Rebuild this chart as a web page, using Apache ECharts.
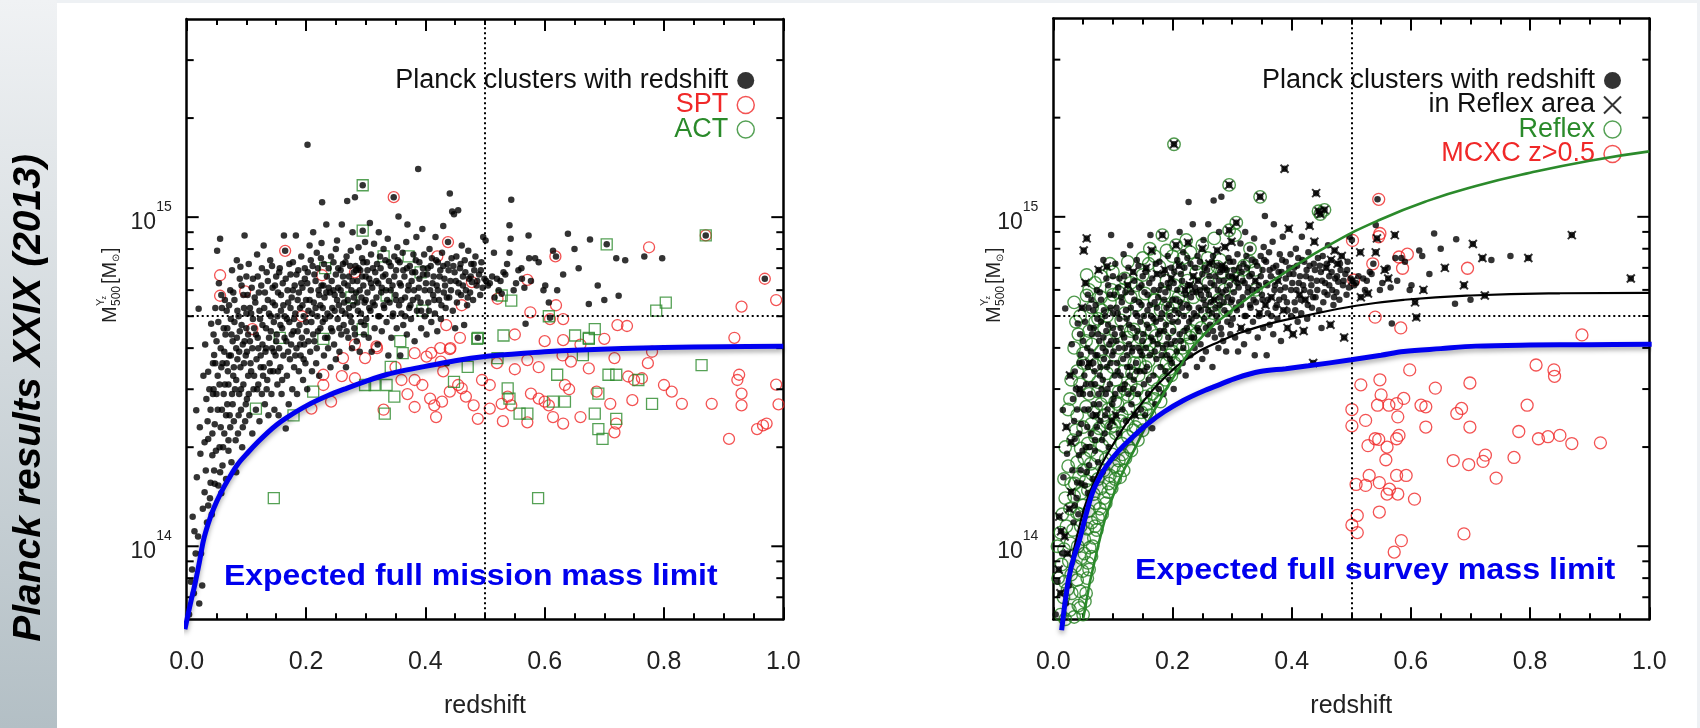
<!DOCTYPE html>
<html><head><meta charset="utf-8">
<script src="https://cdn.jsdelivr.net/npm/echarts@6/dist/echarts.min.js"></script>
<style>html,body{margin:0;padding:0;background:#fff}#c{width:1700px;height:728px}</style>
</head><body><div id="c"></div>
<script>
// ---------- data (mass in units of 1e14 Msun) ----------
const xTickLabels = ['0.0','0.2','0.4','0.6','0.8','1.0'];
const yMajorTicks = [1, 10];
const yMajorLabels = ['14', '15'];
const yMinorTicks = [0.7,0.8,0.9,2,3,4,5,6,7,8,9,20,30];
const zCut = 0.5;
const mCut = 5;

const planck = [
[0.004,0.62],[0.007,0.78],[0.009,0.85],[0.010,1.23],[0.012,0.72],[0.013,1.11],[0.015,0.95],[0.016,2.59],[0.017,1.62],[0.019,1.07],[0.021,0.67],[0.022,2.3],[0.023,1.91],[0.024,0.95],[0.026,0.76],[0.027,1.30],[0.028,3.3],[0.030,1.46],[0.030,2.07],[0.031,4.1],[0.033,2.8],[0.034,1.18],[0.036,1.33],[0.036,2.12],[0.036,3.39],[0.020,5.27],[0.040,1.56],[0.040,2.6],[0.041,4.74],[0.042,1.25],[0.043,1.89],[0.044,3.6],[0.045,3.0],[0.045,4.4],[0.046,1.70],[0.046,3.81],[0.047,2.35],[0.048,5.3],[0.049,1.95],[0.050,2.9],
[0.051,7.9],[0.052,3.3],[0.053,1.53],[0.054,6.3],[0.055,2.0],[0.056,8.6],[0.056,1.68],[0.057,4.0],[0.058,1.45],[0.058,5.8],[0.059,2.6],[0.060,3.6],[0.060,1.76],[0.062,4.6],[0.063,2.2],[0.064,3.1],[0.065,4.4],[0.066,1.6],[0.067,5.2],[0.068,2.7],[0.069,3.4],[0.070,2.1],[0.071,3.8],[0.072,2.5],[0.073,6.0],[0.074,4.9],[0.075,1.8],[0.076,2.9],[0.076,6.9],[0.077,4.2],[0.078,3.3],[0.079,2.4],[0.080,5.6],[0.081,3.0],[0.083,1.68],[0.083,4.0],[0.084,7.4],[0.085,3.7],[0.086,2.2],[0.087,5.0],[0.088,2.9],[0.089,4.5],[0.090,7.07],[0.090,3.5],[0.091,2.6],[0.092,6.2],[0.093,2.0],[0.094,4.1],[0.095,3.1],[0.096,5.3],[0.097,8.8],[0.098,2.4],[0.099,3.8],[0.100,6.6],[0.100,4.6],
[0.101,2.8],[0.102,5.8],[0.103,3.3],[0.104,7.2],[0.105,2.5],[0.106,4.2],[0.107,3.6],[0.108,5.1],[0.110,2.2],[0.110,4.0],[0.111,6.5],[0.112,3.0],[0.113,4.6],[0.115,5.5],[0.116,2.6],[0.117,3.7],[0.118,7.7],[0.119,4.3],[0.120,3.1],[0.121,5.9],[0.122,2.4],[0.123,4.9],[0.124,3.5],[0.125,6.2],[0.126,2.9],[0.127,4.1],[0.128,3.3],[0.129,8.2],[0.130,5.3],[0.131,2.7],[0.132,3.9],[0.133,4.6],[0.134,6.8],[0.135,3.2],[0.136,5.6],[0.137,2.5],[0.138,4.3],[0.139,3.6],[0.140,7.4],[0.141,5.0],[0.142,2.9],[0.143,4.0],[0.144,6.1],[0.145,3.4],[0.146,4.8],[0.147,2.6],[0.148,5.4],[0.149,3.8],[0.150,6.6],
[0.151,4.4],[0.152,3.1],[0.153,5.9],[0.154,2.5],[0.155,4.0],[0.156,7.0],[0.157,3.5],[0.158,5.2],[0.159,2.9],[0.160,4.6],[0.161,6.3],[0.162,3.8],[0.163,8.8],[0.164,5.0],[0.165,7.9],[0.166,2.28],[0.167,4.2],[0.168,3.3],[0.169,6.0],[0.170,5.5],[0.171,2.7],[0.172,4.8],[0.173,3.7],[0.174,6.7],[0.175,4.1],[0.176,5.7],[0.177,3.0],[0.178,7.3],[0.179,4.5],[0.180,3.5],[0.181,6.2],[0.182,5.1],[0.183,8.8],[0.184,4.0],[0.185,2.9],[0.186,5.6],[0.187,6.9],[0.188,3.4],[0.189,4.7],[0.190,5.3],[0.191,3.8],[0.192,7.6],[0.193,4.3],[0.194,6.1],[0.195,3.2],[0.196,5.0],[0.197,4.1],[0.198,6.5],[0.199,3.6],[0.200,5.6],
[0.2025,16.6],[0.201,4.5],[0.202,3.0],[0.203,6.8],[0.204,5.2],[0.206,8.2],[0.207,3.9],[0.208,6.0],[0.209,4.8],[0.210,3.4],[0.211,7.1],[0.212,9.0],[0.213,5.5],[0.214,4.2],[0.216,6.4],[0.217,3.6],[0.218,7.8],[0.219,5.0],[0.220,4.5],[0.221,6.0],[0.222,3.3],[0.224,5.4],[0.225,7.5],[0.226,8.35],[0.227,11.1],[0.228,4.8],[0.229,6.2],[0.230,3.8],[0.231,5.7],[0.232,4.3],[0.234,9.5],[0.235,6.6],[0.236,5.1],[0.237,4.0],[0.238,7.0],[0.240,5.9],[0.241,3.5],[0.242,4.6],[0.243,6.4],[0.244,5.3],[0.246,7.3],[0.247,4.1],[0.248,5.8],[0.250,8.0],[0.250,3.7],
[0.252,8.5],[0.253,4.9],[0.254,6.1],[0.255,5.4],[0.256,3.9],[0.258,6.9],[0.259,4.4],[0.260,9.5],[0.261,5.8],[0.262,7.2],[0.263,4.7],[0.264,6.3],[0.266,5.1],[0.267,3.5],[0.268,7.6],[0.269,11.2],[0.270,5.6],[0.271,4.3],[0.272,6.6],[0.274,5.0],[0.275,7.9],[0.276,6.0],[0.277,4.0],[0.278,9.0],[0.279,5.4],[0.280,6.8],[0.281,4.6],[0.282,11.5],[0.283,7.1],[0.284,5.9],[0.285,4.2],[0.286,6.4],[0.287,5.2],[0.288,8.1],[0.290,3.9],[0.291,6.9],[0.292,4.8],[0.293,5.7],[0.294,7.5],[0.295,12.5],[0.295,9.1],[0.296,6.2],[0.297,4.4],[0.298,5.5],[0.299,8.4],[0.300,6.6],
[0.301,4.9],[0.302,7.3],[0.303,5.9],[0.305,4.3],[0.306,6.5],[0.307,9.6],[0.308,5.2],[0.309,7.7],[0.310,3.9],[0.311,6.1],[0.312,5.5],[0.314,8.3],[0.315,4.6],[0.316,6.8],[0.318,5.7],[0.319,7.2],[0.320,4.1],[0.321,6.3],[0.322,9.0],[0.323,5.0],[0.325,7.0],[0.326,5.9],[0.327,4.5],[0.329,6.6],[0.330,8.0],[0.331,5.3],[0.333,7.4],[0.334,6.0],[0.335,4.8],[0.337,8.6],[0.338,3.8],[0.339,6.4],[0.340,5.5],[0.342,7.1],[0.343,4.3],[0.345,6.2],[0.346,5.1],[0.347,11.5],[0.348,7.6],[0.350,5.8],
[0.351,6.9],[0.352,4.6],[0.353,8.1],[0.355,10.05],[0.356,5.4],[0.357,7.3],[0.358,3.8],[0.359,6.2],[0.360,5.1],[0.362,7.8],[0.363,4.7],[0.365,6.6],[0.366,5.7],[0.368,8.4],[0.369,4.4],[0.370,9.5],[0.371,6.0],[0.373,5.3],[0.374,7.1],[0.376,4.9],[0.377,6.4],[0.379,5.6],[0.380,7.7],[0.382,4.2],[0.383,6.8],[0.385,8.7],[0.386,5.2],[0.388,14.0],[0.389,6.1],[0.390,7.3],[0.392,5.5],[0.393,4.6],[0.395,9.2],[0.396,6.7],[0.398,7.7],[0.399,5.0],
[0.401,6.3],[0.402,4.4],[0.404,7.0],[0.405,5.5],[0.407,8.0],[0.408,6.0],[0.410,4.8],[0.411,7.5],[0.413,5.8],[0.414,6.6],[0.416,5.1],[0.417,8.7],[0.419,6.2],[0.420,4.5],[0.421,7.3],[0.423,5.6],[0.425,6.9],[0.426,4.9],[0.428,7.8],[0.430,9.4],[0.431,5.9],[0.432,6.5],[0.434,5.3],[0.436,3.6],[0.437,7.2],[0.438,8.4],[0.440,5.7],[0.441,11.8],[0.442,6.4],[0.444,7.5],[0.445,10.4],[0.446,5.2],[0.448,10.2],[0.449,6.8],[0.450,4.6],
[0.452,7.6],[0.453,5.5],[0.455,10.5],[0.456,6.3],[0.458,7.0],[0.460,5.8],[0.461,8.2],[0.463,6.6],[0.465,4.7],[0.466,7.4],[0.468,6.0],[0.470,5.4],[0.472,7.9],[0.473,6.5],[0.475,5.9],[0.477,7.2],[0.478,6.35],[0.480,5.6],[0.482,6.9],[0.484,7.6],[0.486,6.2],[0.488,4.3],[0.490,6.7],[0.492,5.8],[0.494,7.3],[0.496,6.1],[0.497,8.7],[0.499,6.5],
[0.501,8.5],[0.502,6.4],[0.505,6.2],[0.508,6.3],[0.512,6.6],[0.515,7.8],[0.516,5.7],[0.520,6.5],[0.523,6.0],[0.526,6.4],[0.528,5.85],[0.531,6.8],[0.534,6.7],[0.537,7.2],[0.541,7.8],[0.541,9.45],[0.543,8.6],[0.544,11.3],[0.548,6.0],[0.552,6.3],[0.556,6.9],[0.561,7.0],[0.562,6.5],[0.566,6.1],[0.568,4.74],[0.573,8.8],[0.574,7.5],[0.577,6.4],[0.584,7.5],[0.590,7.3],[0.598,6.0],
[0.601,6.2],[0.607,5.5],[0.609,4.95],[0.614,7.9],[0.619,7.6],[0.621,6.0],[0.631,6.7],[0.639,8.9],[0.650,8.0],[0.657,7.0],[0.674,5.45],[0.676,8.55],[0.689,6.2],[0.700,5.6],[0.704,8.27],[0.720,7.5],[0.724,5.77],[0.735,7.4],[0.767,7.6],[0.797,7.5],[0.870,8.8],[0.969,6.5],
[0.032,1.7],[0.035,2.4],[0.038,3.0],[0.039,1.4],[0.043,2.2],[0.044,2.9],[0.047,1.55],[0.048,3.6],[0.05,4.2],[0.052,2.6],[0.053,4.8],[0.055,3.1],[0.057,2.3],[0.058,3.5],[0.059,5.3],[0.061,2.0],[0.062,2.9],[0.063,3.9],[0.064,5.6],[0.066,2.5],[0.067,3.6],[0.068,4.6],[0.07,1.95],[0.07,3.1],[0.071,5.4],[0.073,2.3],[0.074,3.8],[0.075,4.4],[0.077,2.7],[0.078,5.9],[0.079,3.5],[0.08,4.8],[0.082,2.1],[0.083,3.2],[0.084,4.3],[0.085,5.2],[0.087,2.5],[0.088,3.9],[0.089,6.5],[0.091,3.0],[0.092,4.7],[0.094,2.3],[0.095,5.8],[0.096,3.6],[0.097,4.2],[0.099,2.7],[0.1,5.1],[0.101,3.9],[0.103,4.4],[0.104,2.9],[0.106,5.3],[0.108,3.4],[0.109,6.1],[0.111,4.9],[0.113,3.3],[0.114,5.7],[0.116,4.4],[0.118,3.0],[0.119,6.6],[0.12,4.0],
[0.122,5.2],[0.124,3.8],[0.126,7.0],[0.127,4.7],[0.129,3.5],[0.131,5.9],[0.133,4.0],[0.134,3.0],[0.136,6.4],[0.138,5.1],[0.14,3.4],[0.141,4.5],[0.143,7.1],[0.144,5.5],[0.146,3.9],[0.148,6.2],[0.15,4.2],[0.152,5.0],[0.153,3.4],[0.155,6.8],[0.157,4.7],[0.158,5.8],[0.16,3.2],[0.162,5.4],[0.164,4.3],[0.166,6.5],[0.168,4.9],[0.17,3.9],[0.172,7.2],[0.174,5.3],[0.176,4.4],[0.178,6.0],[0.18,4.9],[0.182,3.8],[0.184,6.7],[0.186,4.5],[0.188,5.9],[0.19,4.1],[0.192,6.3],[0.194,5.4],[0.196,3.7],[0.198,7.0],[0.2,4.8],[0.202,6.3],[0.204,4.2],[0.206,5.6],[0.208,7.4],[0.21,5.1],[0.212,4.4],[0.214,6.7],[0.216,5.3],[0.218,4.0],[0.22,7.0],[0.222,5.8],[0.224,4.6],[0.226,6.2],[0.228,5.3],[0.23,7.2],[0.232,4.9],[0.234,5.9],[0.236,4.3],[0.238,6.1],[0.24,5.0],[0.242,7.6],[0.244,4.5],[0.246,6.0],[0.248,5.2],[0.25,6.7],
[0.252,5.6],[0.254,7.0],[0.256,4.6],[0.258,6.0],[0.26,5.2],[0.262,6.6],[0.264,5.5],[0.266,7.3],[0.268,4.5],[0.27,6.2],[0.272,5.3],[0.274,7.1],[0.276,4.8],[0.278,6.4],[0.28,5.7],[0.282,4.4],[0.284,6.9],[0.286,5.5],[0.288,7.0],[0.29,6.0],[0.292,5.1],[0.294,6.6],[0.296,7.3],[0.298,4.7],[0.3,5.6],[0.303,6.9],[0.306,5.3],[0.309,6.3],[0.312,7.0],[0.315,5.4],[0.318,6.4],[0.321,5.0],[0.324,7.6],[0.327,6.1],[0.33,5.4],[0.333,6.7],[0.336,5.6],[0.339,7.3],[0.342,6.0],[0.345,5.0],[0.348,6.6],[0.351,5.6],[0.354,7.4],[0.357,6.3],[0.36,5.6],[0.363,6.9],[0.366,5.0],[0.369,7.0],[0.372,6.2],[0.375,5.4],[0.378,6.8],[0.381,6.0],[0.384,7.4],[0.387,5.7],[0.39,6.5],[0.393,5.2],[0.396,7.0],[0.399,6.0],[0.403,6.7],[0.406,5.2],[0.409,7.1],[0.412,6.3],[0.415,5.6],[0.418,7.4],[0.421,6.0],[0.424,6.6],[0.427,5.4],[0.43,7.1],[0.433,6.2],[0.436,5.7],[0.439,6.9],[0.443,6.0],[0.447,7.1],[0.451,6.4],[0.455,5.9],[0.459,7.2],[0.463,6.2],[0.467,6.8],[0.471,5.7],[0.476,6.6],[0.481,7.2],[0.487,6.4],[0.493,6.9]
];

const spt = [
[0.347,11.5],[0.165,7.9],[0.056,6.66],[0.056,5.77],[0.098,5.95],[0.438,8.4],[0.42,7.6],[0.618,7.6],[0.775,8.1],[0.87,8.8],[0.969,6.5],[0.227,6.66],[0.282,6.8],[0.571,6.45],[0.478,6.35],[0.521,5.65],[0.461,5.4],[0.619,5.4],[0.576,5.14],[0.93,5.35],[0.609,4.9],[0.631,4.9],[0.722,4.7],[0.738,4.67],[0.918,4.3],[0.435,4.7],[0.11,4.57],[0.193,5.0],[0.70,4.27],[0.631,4.23],[0.319,4.0],[0.282,4.1],[0.425,4.0],[0.441,3.97],[0.41,3.87],
[0.262,3.73],[0.299,3.73],[0.318,4.05],[0.229,3.32],[0.26,3.29],[0.282,3.24],[0.229,3.09],[0.209,2.62],[0.242,2.75],[0.382,3.86],[0.402,3.77],[0.442,4.0],[0.426,3.64],[0.43,3.4],[0.382,3.2],[0.395,3.09],[0.408,2.81],[0.415,2.68],[0.428,2.75],[0.382,2.65],[0.418,2.47],[0.441,2.95],[0.455,3.09],[0.461,3.02],[0.468,2.85],[0.481,2.68],[0.488,2.44],[0.508,3.09],[0.538,2.85],[0.544,2.68],[0.508,2.62],[0.528,2.71],[0.571,2.38],[0.577,2.91],[0.59,2.81],[0.60,2.75],[0.607,2.68],[0.614,2.47],[0.631,2.36],[0.571,3.68],[0.644,3.64],[0.674,3.47],[0.634,3.09],[0.641,3.0],[0.66,2.47],[0.687,2.95],[0.71,2.71],[0.717,3.73],[0.773,3.6],[0.717,2.22],[0.72,2.36],[0.74,3.28],[0.75,3.2],[0.763,3.24],[0.747,2.78],[0.8,3.09],[0.813,2.95],[0.83,2.71],[0.88,2.71],[0.926,3.32],[0.923,3.2],[0.93,2.91],[0.93,2.68],[0.909,2.12],[0.956,2.27],[0.966,2.33],[0.972,2.36],[0.988,3.1],[0.992,2.7],[0.988,5.6],[0.52,3.6],[0.55,3.45],[0.59,3.5],[0.63,3.8],[0.6,4.2],[0.66,4.1],[0.55,4.4],[0.35,3.5],[0.36,3.2],[0.37,2.9],[0.33,2.6],[0.458,4.3],[0.495,3.2],[0.53,2.4],[0.78,3.9]
];

const act = [
[0.295,12.5],[0.295,9.1],[0.704,8.27],[0.87,8.8],[0.33,7.6],[0.372,7.6],[0.392,6.8],[0.232,7.0],[0.276,5.7],[0.335,5.78],[0.528,5.78],[0.544,5.58],[0.787,5.2],[0.803,5.5],[0.607,5.0],[0.684,4.57],[0.651,4.37],[0.674,4.27],[0.531,4.37],[0.487,4.27],[0.358,4.2],[0.295,4.57],[0.229,4.27],[0.156,4.3],[0.395,5.2],[0.342,3.51],[0.362,3.86],[0.299,3.09],[0.315,3.09],[0.335,3.09],[0.348,2.85],[0.212,2.95],[0.116,2.62],[0.179,2.5],[0.332,2.53],[0.448,3.16],[0.471,3.51],[0.488,4.3],[0.521,3.73],[0.538,3.02],[0.541,2.81],[0.558,2.53],[0.571,2.53],[0.614,2.75],[0.621,3.32],[0.634,2.75],[0.664,3.81],[0.674,4.3],[0.684,2.53],[0.69,2.91],[0.707,3.32],[0.72,3.32],[0.69,2.27],[0.697,2.12],[0.72,2.44],[0.78,2.71],[0.863,3.55],[0.757,3.2],[0.146,1.4],[0.589,1.4]
];

const limitMission = [
[-0.003,0.56],[0.007,0.68],[0.014,0.77],[0.021,0.89],[0.028,1.04],[0.036,1.17],[0.045,1.3],[0.057,1.45],[0.07,1.6],[0.085,1.77],[0.103,1.93],[0.12,2.08],[0.136,2.22],[0.152,2.35],[0.169,2.47],[0.202,2.68],[0.235,2.86],[0.268,3.02],[0.30,3.17],[0.334,3.32],[0.367,3.43],[0.40,3.52],[0.45,3.66],[0.5,3.77],[0.55,3.84],[0.6,3.9],[0.66,3.95],[0.73,3.99],[0.8,4.02],[0.9,4.04],[1.0,4.05]
];

const mcxc = [
[0.546,11.3],[0.546,8.7],[0.548,8.9],[0.502,8.48],[0.536,7.2],[0.58,7.55],[0.594,7.7],[0.586,6.98],[0.695,6.98],[0.504,6.43],[0.54,4.96],[0.583,4.6],[0.887,4.38],
[0.598,3.43],[0.516,3.09],[0.548,3.2],[0.641,3.02],[0.699,3.13],[0.81,3.55],[0.84,3.43],[0.841,3.28],[0.55,2.88],[0.544,2.68],[0.563,2.68],[0.576,2.71],[0.588,2.81],[0.578,2.47],[0.617,2.68],[0.625,2.65],[0.677,2.53],[0.685,2.62],[0.699,2.3],[0.625,2.3],[0.795,2.68],[0.524,2.41],[0.501,2.6],[0.501,2.32],[0.781,2.23],[0.814,2.12],[0.83,2.15],[0.85,2.17],[0.87,2.05],[0.918,2.06],[0.528,2.02],[0.54,2.12],[0.546,2.11],[0.56,2.0],[0.576,2.12],[0.58,2.17],[0.558,1.83],[0.671,1.82],[0.697,1.77],[0.721,1.81],[0.725,1.89],[0.773,1.86],[0.743,1.61],[0.508,1.54],[0.524,1.53],[0.53,1.64],[0.547,1.56],[0.576,1.64],[0.592,1.64],[0.564,1.49],[0.56,1.44],[0.578,1.44],[0.606,1.39],[0.547,1.27],[0.51,1.24],[0.501,1.16],[0.51,1.1],[0.689,1.09],[0.584,1.04],[0.572,0.96]
];

const reflexArea = [
[0.2025,16.6],[0.388,14.0],[0.295,12.5],[0.347,11.5],[0.441,11.8],[0.445,10.4],[0.455,10.5],[0.448,10.2],[0.307,9.6],[0.295,9.1],[0.395,9.2],[0.430,9.4],[0.438,8.4],[0.183,8.8],[0.206,8.2],[0.226,8.35],[0.165,7.9],[0.573,8.8],[0.704,8.27],[0.720,7.5],[0.797,7.5],[0.870,8.8],[0.969,6.5],[0.689,6.2],[0.621,6.0],[0.657,7.0],[0.724,5.77],[0.609,4.95],[0.607,5.5],[0.543,8.6],[0.541,7.8],[0.515,7.8],[0.528,5.85],[0.516,5.7],[0.502,6.4],[0.562,6.5],[0.556,6.9],[0.488,4.3],[0.465,4.7],[0.393,4.6],[0.423,5.6],[0.386,5.2],[0.377,6.4],[0.346,5.1],[0.339,6.4],[0.315,4.6],[0.306,6.5],[0.299,8.4],[0.288,8.1],[0.275,7.9],[0.262,7.2],[0.250,8.0],[0.243,6.4],[0.235,6.6],[0.229,6.2],[0.221,6.0],[0.211,7.1],[0.198,6.5],[0.187,6.9],[0.174,6.7],[0.156,7.0],[0.134,6.8],[0.125,6.2],[0.098,2.4],[0.090,7.07],[0.076,6.9],[0.056,8.6],[0.051,7.9],[0.054,6.3],[0.048,5.3],[0.030,2.07],[0.027,1.30],[0.024,0.95],[0.012,0.72],[0.013,1.11],[0.019,1.07],[0.022,2.3],[0.045,3.0],[0.060,3.6],[0.072,2.5],[0.105,2.5],[0.137,2.5],[0.466,7.4],[0.472,7.9],[0.477,7.2],[0.484,7.6],[0.458,7.0],[0.420,4.5],[0.436,3.6],[0.356,5.4],[0.366,5.7],[0.402,4.4],[0.413,5.8],[0.283,7.1],[0.270,5.6],[0.030,1.46],[0.009,0.85],[0.010,1.23],[0.028,3.3]
];

const reflex = [
[0.2025,16.6],[0.295,12.5],[0.347,11.5],[0.445,10.4],[0.455,10.5],[0.448,10.2],[0.307,9.6],[0.295,9.1],[0.305,8.8],[0.183,8.8],[0.206,8.2],[0.223,8.5],[0.162,8.0],[0.056,6.66],[0.056,5.77],[0.098,6.0],[0.15,6.66],[0.178,7.06],[0.23,7.8],[0.259,7.5],[0.275,7.06],[0.283,6.8],[0.339,6.9],[0.038,4.8],[0.042,4.4],[0.082,5.2],[0.114,4.85],[0.13,4.5],[0.146,4.3],[0.162,4.1],[0.178,3.9],[0.195,3.8],[0.154,5.85],[0.17,5.58],[0.186,5.85],[0.203,6.2],[0.219,6.0],[0.235,5.7],
[0.012,0.62],[0.02,0.6],[0.028,0.64],[0.035,0.61],[0.042,0.66],[0.05,0.62],[0.017,0.7],[0.031,0.72],[0.045,0.73],[0.053,0.68],[0.024,0.74],
[0.008,0.8],[0.019,0.78],[0.03,0.82],[0.04,0.79],[0.049,0.84],[0.057,0.8],[0.014,0.88],[0.026,0.9],[0.037,0.87],[0.047,0.92],[0.058,0.89],[0.064,0.93],
[0.007,1.0],[0.018,0.98],[0.029,1.02],[0.041,1.0],[0.052,1.05],[0.061,0.99],[0.068,1.06],[0.073,1.12],[0.033,1.12],[0.046,1.15],[0.057,1.13],[0.022,1.15],[0.064,1.18],[0.012,1.1],
[0.015,1.25],[0.028,1.3],[0.04,1.26],[0.05,1.33],[0.06,1.28],[0.07,1.35],[0.078,1.3],[0.085,1.4],[0.092,1.46],[0.035,1.42],[0.047,1.45],[0.058,1.48],[0.068,1.44],[0.08,1.5],[0.02,1.4],
[0.018,1.6],[0.03,1.55],[0.043,1.62],[0.055,1.58],[0.065,1.66],[0.075,1.6],[0.085,1.7],[0.095,1.64],[0.102,1.75],[0.11,1.82],[0.118,1.7],[0.04,1.8],[0.052,1.85],[0.063,1.78],[0.074,1.88],[0.088,1.84],[0.099,1.9],[0.025,1.75],
[0.02,2.0],[0.033,2.1],[0.046,1.98],[0.058,2.05],[0.07,2.15],[0.082,2.02],[0.094,2.1],[0.105,2.2],[0.115,2.05],[0.125,2.15],[0.134,2.25],[0.142,2.1],[0.05,2.3],[0.064,2.35],[0.077,2.28],[0.09,2.38],[0.102,2.32],[0.113,2.4],[0.123,2.36],[0.038,2.25],
[0.025,2.6],[0.04,2.5],[0.055,2.65],[0.068,2.55],[0.08,2.7],[0.092,2.6],[0.104,2.75],[0.115,2.5],[0.126,2.62],[0.137,2.8],[0.148,2.55],[0.158,2.7],[0.166,2.9],[0.06,2.9],[0.075,2.95],[0.09,2.85],[0.11,2.95],[0.125,2.88],[0.14,2.98],[0.155,2.85],
[0.03,3.2],[0.045,3.1],[0.06,3.3],[0.075,3.15],[0.09,3.35],[0.105,3.2],[0.118,3.4],[0.13,3.1],[0.143,3.3],[0.155,3.5],[0.167,3.2],[0.178,3.4],[0.19,3.6],[0.198,3.3],[0.05,3.6],[0.07,3.55],[0.085,3.65],[0.1,3.5],[0.12,3.68],[0.136,3.6],[0.16,3.65],[0.184,3.1],
[0.035,4.0],[0.05,3.85],[0.065,4.1],[0.08,3.9],[0.095,4.2],[0.11,4.0],[0.125,4.3],[0.14,3.9],[0.155,4.2],[0.17,4.0],[0.185,4.3],[0.2,3.9],[0.212,4.1],[0.222,4.4],[0.06,4.5],[0.085,4.6],[0.105,4.45],[0.135,4.55],[0.165,4.5],[0.195,4.55],[0.215,3.8],[0.23,4.3],
[0.045,5.0],[0.065,5.3],[0.075,4.9],[0.095,5.5],[0.12,5.1],[0.14,5.4],[0.16,4.9],[0.18,5.2],[0.2,5.0],[0.22,5.3],[0.24,4.8],[0.255,5.1],[0.08,5.7],[0.11,5.9],[0.13,5.7],[0.17,5.6],[0.21,5.7],[0.25,5.8],[0.27,5.4],[0.29,5.2],
[0.07,6.3],[0.1,6.8],[0.12,6.5],[0.14,6.2],[0.16,7.2],[0.19,6.4],[0.21,7.0],[0.24,6.8],[0.26,6.3],[0.28,7.4],[0.3,6.7],[0.32,7.1],[0.34,6.0],[0.2,7.6],[0.25,8.2],[0.27,8.6],[0.33,8.0],
[0.045,0.65],[0.055,0.72],[0.06,0.85],[0.052,0.95],[0.066,1.0],[0.07,1.15],[0.075,1.22],[0.082,1.25],[0.088,1.35],[0.093,1.55],[0.098,1.5],[0.104,1.6],[0.108,1.7],[0.112,1.62],[0.116,1.9],[0.121,1.85],[0.127,2.0],[0.131,1.95],[0.138,2.3],[0.145,2.4],[0.15,2.25],[0.155,2.6],[0.162,2.5],[0.17,2.8],[0.175,3.0],[0.18,2.75],[0.188,3.2],[0.195,3.45],[0.203,3.6],[0.208,3.7],[0.217,4.0],[0.225,4.1],[0.232,4.5],[0.24,4.4],[0.248,4.6],[0.26,4.9],[0.268,5.1],[0.278,5.6],[0.287,6.0],[0.298,6.2],[0.31,6.5],[0.318,6.9],[0.33,7.3],[0.044,1.25],[0.036,1.55],[0.05,1.7],[0.062,1.95],[0.072,2.2],[0.085,2.5],[0.097,2.3],[0.108,2.7],[0.12,3.0],[0.132,3.35],[0.145,3.6],[0.158,3.9],[0.172,4.35],[0.18,4.7],[0.192,5.3],[0.205,5.5],[0.225,6.4],[0.24,7.2],[0.26,7.0],[0.028,2.8],[0.04,3.4],[0.055,4.2],[0.07,4.8],[0.09,5.0],[0.1,5.8],[0.115,6.0],[0.13,6.3],[0.15,7.5],[0.17,7.6],[0.19,7.9],[0.035,5.5],[0.06,6.0],[0.08,6.6],[0.095,7.2],[0.125,7.3],[0.218,7.5]
];

const limitSurvey = [
[0.014,0.556],[0.02,0.68],[0.026,0.8],[0.034,0.92],[0.0436,1.04],[0.055,1.25],[0.066,1.46],[0.078,1.62],[0.09,1.76],[0.11,1.95],[0.13,2.12],[0.158,2.35],[0.186,2.56],[0.218,2.77],[0.25,2.95],[0.28,3.1],[0.307,3.24],[0.347,3.39],[0.39,3.46],[0.428,3.53],[0.5,3.68],[0.55,3.8],[0.588,3.9],[0.65,3.98],[0.709,4.05],[0.8,4.08],[0.9,4.09],[1.004,4.1]
];
const limitPlanckBlack = [
[0.017,0.6],[0.027,0.8],[0.038,1.04],[0.066,1.53],[0.106,2.12],[0.146,2.68],[0.186,3.24],[0.227,3.73],[0.275,4.15],[0.347,4.65],[0.428,5.03],[0.508,5.37],[0.589,5.6],[0.7,5.77],[0.85,5.86],[1.0,5.88]
];
const limitReflexGreen = [
[0.05,0.6],[0.075,1.0],[0.105,1.5],[0.135,1.95],[0.17,2.6],[0.21,3.45],[0.243,4.2],[0.307,5.33],[0.387,6.74],[0.468,8.3],[0.548,9.8],[0.629,11.2],[0.709,12.4],[0.8,13.6],[0.9,14.8],[1.0,15.8]
];

// ---------- styling ----------
const FONT = '"Liberation Sans", Arial, Helvetica, sans-serif';
const RED = '#f02828', GREEN = '#2a8a2a', DGREEN = '#23801f', BLUE = '#0000f0';
const CROSS = 'path://M0,0L10,10M10,0L0,10';

function xAx(gi, pos) {
  const bottom = pos === 'bottom';
  return {
    type: 'value', gridIndex: gi, position: pos, min: 0, max: 1, interval: 0.2,
    axisLine: {show: true, onZero: false, lineStyle: {color: '#000', width: 2.5}},
    axisTick: {show: true, inside: true, length: 12, lineStyle: {color: '#000', width: 2}},
    minorTick: {show: true, splitNumber: 4, length: 6, lineStyle: {color: '#000', width: 2}},
    splitLine: {show: false}, minorSplitLine: {show: false},
    axisLabel: bottom ? {show: true, margin: 30, fontSize: 25, color: '#222', fontFamily: FONT,
      formatter: v => xTickLabels[Math.round(v / 0.2)]} : {show: false},
    name: bottom ? 'redshift' : '', nameLocation: 'middle', nameGap: 74,
    nameTextStyle: {fontSize: 25, color: '#222', fontFamily: FONT}
  };
}
function yAx(gi, pos) {
  const left = pos === 'left';
  return {
    type: 'log', logBase: 10, gridIndex: gi, position: pos, min: 0.6, max: 40,
    axisLine: {show: true, onZero: false, lineStyle: {color: '#000', width: 2.5}},
    axisTick: {show: false}, minorTick: {show: false}, splitLine: {show: false},
    axisLabel: left ? {
      show: true, margin: 15,
      formatter: v => {
        for (let i = 0; i < yMajorTicks.length; i++) {
          if (Math.abs(v - yMajorTicks[i]) < 1e-6) return '{b|10}{s|' + yMajorLabels[i] + '}';
        }
        return '';
      },
      rich: {
        b: {fontSize: 23, fontFamily: FONT, color: '#222', lineHeight: 34, verticalAlign: 'bottom'},
        s: {fontSize: 14, fontFamily: FONT, color: '#222', lineHeight: 14, verticalAlign: 'top'}
      }
    } : {show: false}
  };
}
function tickSeries(xi, yi) {
  const data = yMinorTicks.map(v => [0, v, 0]).concat(yMajorTicks.map(v => [0, v, 1]));
  return {
    type: 'custom', xAxisIndex: xi, yAxisIndex: yi, silent: true, clip: false, z: 3,
    data: data,
    renderItem: (params, api) => {
      const v = api.value(1), major = api.value(2) === 1;
      const a = api.coord([0, v]), b = api.coord([1, v]);
      const len = major ? 12 : 7;
      const st = {stroke: '#000', lineWidth: 2};
      return {type: 'group', children: [
        {type: 'line', shape: {x1: a[0], y1: a[1], x2: a[0] + len, y2: a[1]}, style: st},
        {type: 'line', shape: {x1: b[0], y1: b[1], x2: b[0] - len, y2: b[1]}, style: st}
      ]};
    }
  };
}
const cutLines = {
  silent: true, symbol: ['none', 'none'], label: {show: false}, animation: false,
  lineStyle: {color: '#000', width: 2, type: [2, 3]},
  emphasis: {disabled: true},
  data: [{xAxis: zCut}, {yAxis: mCut}]
};
function curve(name, data, xi, yi, color, width, shadow, smooth) {
  const ls = {color: color, width: width};
  if (shadow) { ls.shadowBlur = 5; ls.shadowColor = 'rgba(0,0,0,0.35)'; ls.shadowOffsetY = 3; }
  return {type: 'line', name: name, data: data, xAxisIndex: xi, yAxisIndex: yi,
    smooth: smooth, showSymbol: false, symbol: 'none', clip: false,
    lineStyle: ls, z: 6, silent: true};
}
function yName(cx, cy) {
  const t = (text, x, y, size) => ({type: 'text', x: x, y: y,
    style: {text: text, font: size + 'px ' + FONT, fill: '#222', textVerticalAlign: 'middle', verticalAlign: 'middle'}});
  return {type: 'group', x: cx, y: cy, rotation: Math.PI / 2, children: [
    t('M', -37, 0, 20),
    t('Y', -20, -9, 11),
    t('z', -13.5, -6, 7),
    t('500', -20, 7, 12),
    t('[M', 2, 0, 20),
    t('\u2299', 24.5, 6, 10),
    t(']', 33, 0, 20)
  ]};
}
function legend(rightPx, items) {
  return {
    orient: 'vertical', align: 'right', right: rightPx, top: 67, padding: 0,
    itemWidth: 17, itemHeight: 17, itemGap: -2.5, selectedMode: false,
    textStyle: {fontSize: 27, fontFamily: FONT, color: '#111', lineHeight: 23, padding: [0, 4, 0, 0]},
    data: items
  };
}

const option = {
  animation: false,
  backgroundColor: '#ffffff',
  grid: [
    {left: 186.7, top: 19, width: 596.6, height: 600.3, outerBoundsMode: 'none'},
    {left: 1053.3, top: 18.5, width: 596, height: 600.8, outerBoundsMode: 'none'}
  ],
  xAxis: [xAx(0, 'bottom'), xAx(0, 'top'), xAx(1, 'bottom'), xAx(1, 'top')],
  yAxis: [yAx(0, 'left'), yAx(0, 'right'), yAx(1, 'left'), yAx(1, 'right')],
  legend: [
    legend(1700 - 755, [
      {name: 'Planck clusters with redshift', icon: 'circle', itemStyle: {color: '#000', borderWidth: 0}},
      {name: 'SPT', icon: 'circle', itemStyle: {color: 'transparent', borderColor: RED, borderWidth: 1.5}, textStyle: {color: RED}},
      {name: 'ACT', icon: 'circle', itemStyle: {color: 'transparent', borderColor: GREEN, borderWidth: 1.5}, textStyle: {color: GREEN}}
    ]),
    legend(1700 - 1622, [
      {name: 'Planck clusters with redshift', icon: 'circle', itemStyle: {color: '#000', borderWidth: 0}},
      {name: 'in Reflex area', icon: CROSS, itemStyle: {color: 'transparent', borderColor: '#000', borderWidth: 2}},
      {name: 'Reflex', icon: 'circle', itemStyle: {color: 'transparent', borderColor: GREEN, borderWidth: 1.5}, textStyle: {color: GREEN}},
      {name: 'MCXC z>0.5', icon: 'circle', itemStyle: {color: 'transparent', borderColor: RED, borderWidth: 1.5}, textStyle: {color: RED}}
    ])
  ],
  series: [
    // ----- left panel -----
    {type: 'scatter', name: 'SPT', data: spt, xAxisIndex: 0, yAxisIndex: 0, symbol: 'circle', symbolSize: 11,
      itemStyle: {color: 'transparent', borderColor: RED, borderWidth: 1.3}, z: 2, silent: true},
    {type: 'scatter', name: 'ACT', data: act, xAxisIndex: 0, yAxisIndex: 0, symbol: 'rect', symbolSize: 11,
      itemStyle: {color: 'transparent', borderColor: GREEN, borderWidth: 1.3}, z: 2, silent: true},
    {type: 'scatter', name: 'Planck clusters with redshift', data: planck, xAxisIndex: 0, yAxisIndex: 0,
      symbol: 'circle', symbolSize: 6.5, itemStyle: {color: '#000'}, z: 4, silent: true, markLine: cutLines},
    curve('Expected full mission mass limit', limitMission, 0, 0, BLUE, 5, true, 0.35),
    tickSeries(0, 0),
    // ----- right panel -----
    {type: 'scatter', name: 'MCXC z>0.5', data: mcxc, xAxisIndex: 2, yAxisIndex: 2, symbol: 'circle', symbolSize: 12,
      itemStyle: {color: 'transparent', borderColor: RED, borderWidth: 1.3}, z: 2, silent: true},
    {type: 'scatter', name: 'Reflex', data: reflex, xAxisIndex: 2, yAxisIndex: 2, symbol: 'circle', symbolSize: 12.5,
      itemStyle: {color: 'transparent', borderColor: DGREEN, borderWidth: 1.4}, z: 2, silent: true},
    {type: 'scatter', name: 'Planck clusters with redshift', data: planck, xAxisIndex: 2, yAxisIndex: 2,
      symbol: 'circle', symbolSize: 6.5, itemStyle: {color: '#000'}, z: 4, silent: true, markLine: cutLines},
    {type: 'scatter', name: 'in Reflex area', data: reflexArea, xAxisIndex: 2, yAxisIndex: 2, symbol: CROSS, symbolSize: 8,
      itemStyle: {color: 'transparent', borderColor: '#000', borderWidth: 2}, z: 5, silent: true},
    curve('Planck limit', limitPlanckBlack, 2, 2, '#000', 2.2, false, 0.5),
    curve('Reflex limit', limitReflexGreen, 2, 2, '#2b8a2b', 2.6, false, 0.5),
    curve('Expected full survey mass limit', limitSurvey, 2, 2, BLUE, 5, true, 0.35),
    tickSeries(2, 2)
  ],
  graphic: {elements: [
    {type: 'rect', shape: {x: 0, y: 0, width: 1700, height: 3}, style: {fill: '#eef1f4'}, z: 0, silent: true},
    {type: 'rect', shape: {x: 1697, y: 0, width: 3, height: 728}, style: {fill: '#eef1f4'}, z: 0, silent: true},
    {type: 'rect', shape: {x: 0, y: 0, width: 57, height: 728}, z: 0, silent: true,
      style: {fill: new echarts.graphic.LinearGradient(0, 0, 0, 1, [{offset: 0, color: '#f0f2f4'}, {offset: 1, color: '#b3bfc5'}])}},
    {type: 'text', x: 29, y: 398, rotation: Math.PI / 2, z: 1, silent: true,
      style: {text: 'Planck results XXIX (2013)', font: 'italic bold 39px ' + FONT, fill: '#000',
        textAlign: 'center', align: 'center', textVerticalAlign: 'middle', verticalAlign: 'middle'}},
    {type: 'text', x: 224, y: 577, scaleX: 1.065, z: 10, silent: true,
      style: {text: 'Expected full mission mass limit', font: 'bold 30px ' + FONT, fill: '#0000ee',
        textAlign: 'left', align: 'left', textVerticalAlign: 'middle', verticalAlign: 'middle'}},
    {type: 'text', x: 1135, y: 571, scaleX: 1.075, z: 10, silent: true,
      style: {text: 'Expected full survey mass limit', font: 'bold 30px ' + FONT, fill: '#0000ee',
        textAlign: 'left', align: 'left', textVerticalAlign: 'middle', verticalAlign: 'middle'}},
    yName(110, 286),
    yName(994, 286)
  ]}
};
const chart = echarts.init(document.getElementById('c'), null, {renderer: 'canvas'});
chart.setOption(option);
</script></body></html>
